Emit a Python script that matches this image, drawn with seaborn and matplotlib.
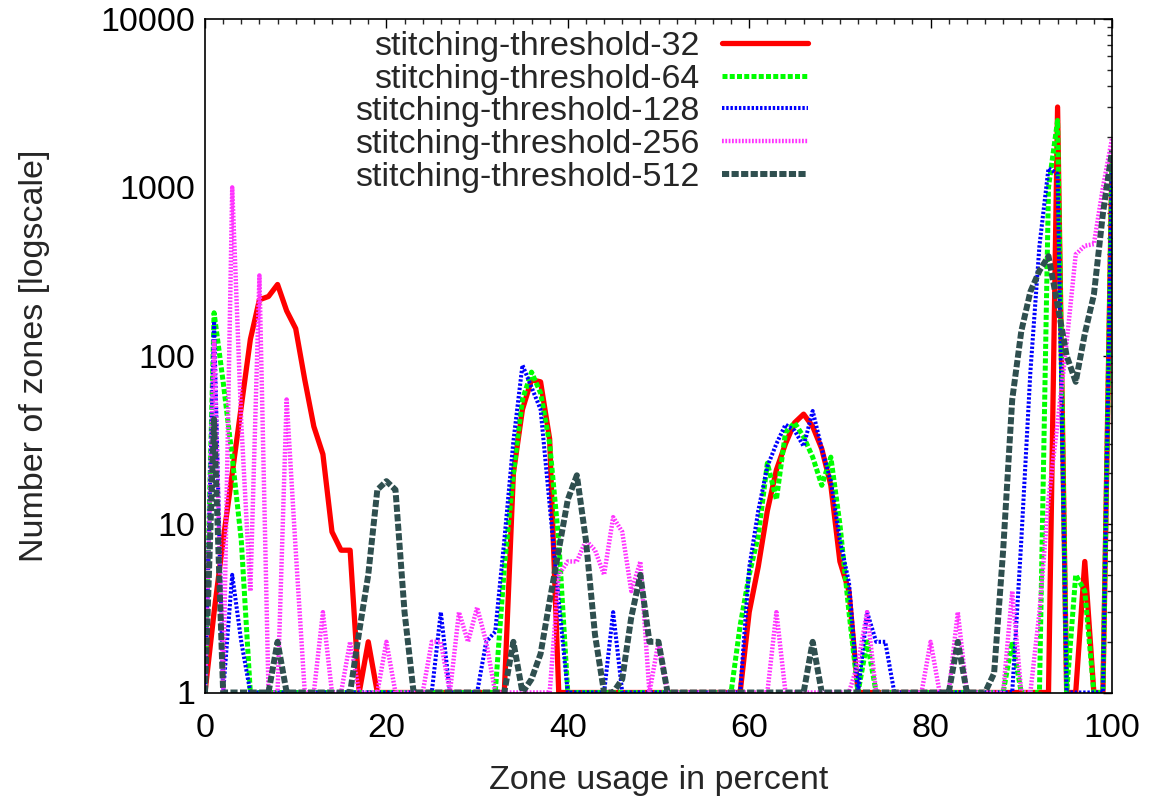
import numpy as np
import pandas as pd
import matplotlib
matplotlib.use("Agg")
import matplotlib.pyplot as plt
import seaborn as sns
from matplotlib.ticker import FixedLocator, FixedFormatter, MultipleLocator, NullFormatter

# ---------------- data ----------------
usage = list(range(101))

red = [
    1, 3, 8, 20, 50, 125, 215, 225, 265, 185,
    145, 72, 38, 26, 9, 7, 7, 1, 2, 1,
    1, 1, 1, 1, 1, 1, 1, 1, 1, 1,
    1, 1, 1, 1, 20, 48, 72, 70, 32, 1,
    1, 1, 1, 1, 1, 1, 1, 1, 1, 1,
    1, 1, 1, 1, 1, 1, 1, 1, 1, 1,
    3, 5.6, 12, 21, 30, 40, 45, 38, 28, 17,
    6, 4, 1, 1, 1, 1, 1, 1, 1, 1,
    1, 1, 1, 1, 1, 1, 1, 1, 1, 1,
    1, 1, 1, 1, 3000, 1, 1, 6, 1, 1,
    1500]

green = [
    1, 180, 70, 25, 8, 1, 1, 1, 1, 1,
    1, 1, 1, 1, 1, 1, 1, 1, 1, 1,
    1, 1, 1, 1, 1, 1, 1, 1, 1, 1,
    1, 1, 1, 5.5, 20, 55, 80, 60, 30, 8,
    1, 1, 1, 1, 1, 1, 1, 1, 1, 1,
    1, 1, 1, 1, 1, 1, 1, 1, 1, 2.5,
    5, 8.5, 23, 14, 35, 40, 33, 25, 17, 25,
    10, 3, 1, 2, 1, 1, 1, 1, 1, 1,
    1, 1, 1, 1, 1, 1, 1, 1, 1, 2,
    1, 1, 1, 1000, 2500, 1, 5, 4, 1, 1,
    1450]

blue = [
    1, 160, 1, 5, 2, 1, 1, 1, 1, 1,
    1, 1, 1, 1, 1, 1, 1, 1, 1, 1,
    1, 1, 1, 1, 1, 1, 3, 1, 1, 1,
    1, 2, 2.3, 8, 31, 88, 65, 48, 13, 3.5,
    1, 1, 1, 1, 1, 3, 1, 1, 1, 1,
    1, 1, 1, 1, 1, 1, 1, 1, 1, 1,
    5.5, 12, 22, 30, 39, 36, 29, 47, 28, 18,
    8, 4.5, 1, 3, 2, 2, 1, 1, 1, 1,
    1, 1, 1, 1, 1, 1, 1, 1, 1, 1,
    8, 80, 450, 1300, 1200, 1, 1, 1, 1, 1,
    1500]

pink = [
    1, 125, 1, 1000, 40, 4, 300, 1, 1, 55,
    7, 1, 1, 3, 1, 1, 2, 1, 1, 1,
    2, 1, 1, 1, 1, 2, 2, 1, 3, 2,
    3.2, 2, 1, 1, 1, 1, 1, 1, 1, 5,
    6, 6, 8, 7, 5, 11, 9, 4, 6, 1,
    2, 1, 1, 1, 1, 1, 1, 1, 1, 1,
    1, 1, 1, 3, 1, 1, 1, 1, 1, 1,
    1, 1, 1.5, 3, 1, 1, 1, 1, 1, 1,
    2, 1, 1, 3, 1, 1, 1, 1, 1, 4,
    1, 1, 3, 14, 40, 120, 400, 450, 460, 1000,
    1950]

dark = [
    1, 42, 1, 1, 1, 1, 1, 1, 2, 1,
    1, 1, 1, 1, 1, 1, 1, 2.3, 5, 16,
    18, 16, 3, 1, 1, 1, 1, 1, 1, 1,
    1, 1, 1, 1, 2, 1, 1.2, 1.7, 3.5, 7,
    14, 19.5, 8, 2.2, 1, 1, 1.2, 2.8, 5, 2,
    2, 1, 1, 1, 1, 1, 1, 1, 1, 1,
    1, 1, 1, 1, 1, 1, 1, 2, 1, 1,
    1, 1, 1, 1, 1, 1, 1, 1, 1, 1,
    1, 1, 1, 2, 1, 1, 1, 1.3, 7, 55,
    140, 240, 320, 390, 200, 100, 70, 135, 230, 700,
    1650]

series_names = ["stitching-threshold-32", "stitching-threshold-64",
                "stitching-threshold-128", "stitching-threshold-256",
                "stitching-threshold-512"]
series_values = [red, green, blue, pink, dark]

y_ticks = [1, 10, 100, 1000, 10000]
y_tick_labels = ["1", "10", "100", "1000", "10000"]
x_ticks = [0, 20, 40, 60, 80, 100]
x_tick_labels = ["0", "20", "40", "60", "80", "100"]

# ---------------- styles ----------------
colors = ["#ff0000", "#00ff00", "#0000ff", "#ff33ff", "#2f4f4f"]
widths = [3.8, 3.6, 2.9, 3.2, 4.3]
linestyles = ["-", (0, (1.0, 0.45)), (0, (0.6, 0.45)), (0, (0.4, 0.35)), (0, (1.2, 0.4))]

sns.set_style("white")
plt.rcParams["font.family"] = ["Liberation Sans", "DejaVu Sans"]
plt.rcParams["xtick.direction"] = "in"
plt.rcParams["ytick.direction"] = "in"
plt.rcParams["xtick.top"] = True
plt.rcParams["ytick.right"] = True

FS = 24.5

df = pd.DataFrame({
    "usage": usage * len(series_names),
    "zones": [v for s in series_values for v in s],
    "series": [n for n in series_names for _ in usage],
})

fig = plt.figure(figsize=(11.51, 7.98), dpi=100)
ax = fig.add_axes([205 / 1151, 1 - 692.5 / 798, (1112 - 205) / 1151, (692.5 - 19) / 798])

for name, col, lw, ls in zip(series_names, colors, widths, linestyles):
    sub = df[df["series"] == name]
    sns.lineplot(data=sub, x="usage", y="zones", ax=ax, color=col, linewidth=lw,
                 linestyle=ls, estimator=None, errorbar=None, label=name)

ax.set_yscale("log")
ax.set_xlim(0, 100)
ax.set_ylim(1, 10000)

ax.yaxis.set_major_locator(FixedLocator(y_ticks))
ax.yaxis.set_major_formatter(FixedFormatter(y_tick_labels))
ax.yaxis.set_minor_locator(FixedLocator([m * d for d in [1, 10, 100, 1000] for m in range(2, 10)]))
ax.yaxis.set_minor_formatter(NullFormatter())
ax.xaxis.set_major_locator(FixedLocator(x_ticks))
ax.xaxis.set_major_formatter(FixedFormatter(x_tick_labels))
ax.xaxis.set_minor_locator(MultipleLocator(2))

ax.tick_params(axis="both", which="major", length=6.5, width=1.0, labelsize=FS, colors="black")
ax.tick_params(axis="both", which="minor", length=3.5, width=1.0)
ax.tick_params(axis="y", which="major", pad=7)
ax.tick_params(axis="x", which="major", pad=15)

for sp in ax.spines.values():
    sp.set_color("black")
    sp.set_linewidth(1.2)

ax.set_xlabel("Zone usage in percent", fontsize=FS)
ax.set_ylabel("Number of zones [logscale]", fontsize=FS)
ax.xaxis.set_label_coords(0.5, -0.107)
ax.yaxis.set_label_coords(-0.171, 0.5)

leg = ax.legend(loc="upper right", bbox_to_anchor=((808 - 205) / 907, (692.5 - 31) / 673.5),
                frameon=False, markerfirst=False, fontsize=FS, borderpad=0, borderaxespad=0,
                handlelength=2.53, handletextpad=0.65, labelspacing=0.05)

fig.savefig("out.png", dpi=100)
